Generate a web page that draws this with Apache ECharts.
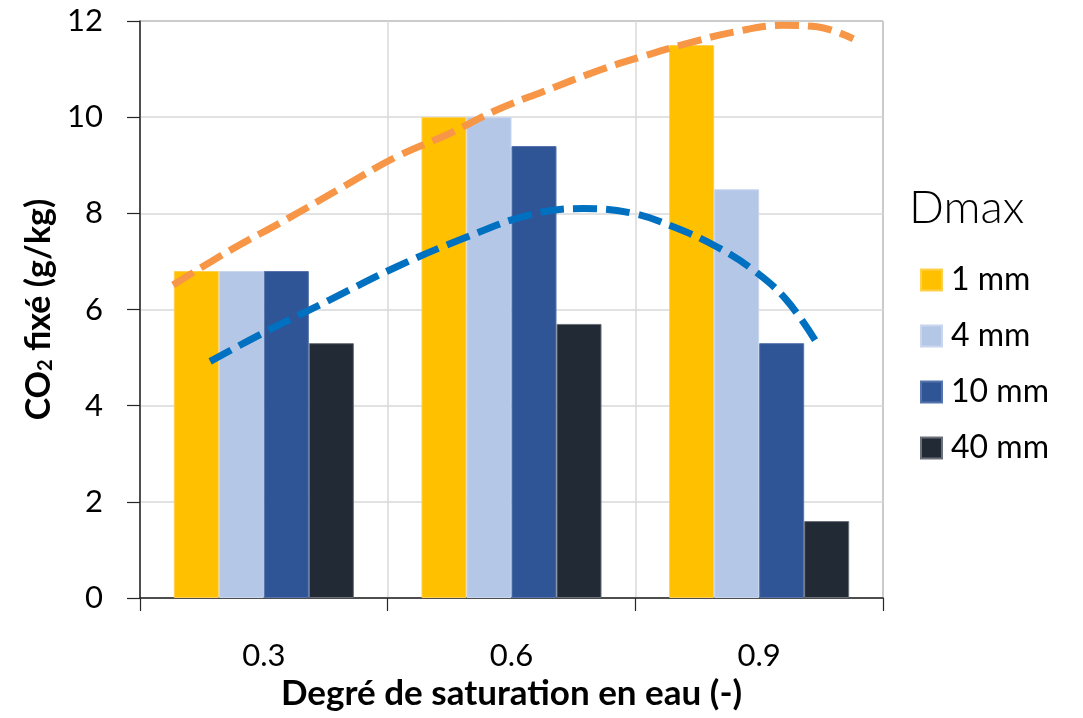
<!DOCTYPE html>
<html>
<head>
<meta charset="utf-8">
<script src="https://cdn.jsdelivr.net/npm/echarts@6/dist/echarts.min.js"></script>
<style>
html,body{margin:0;padding:0;background:#fff;}
#chart{width:1083px;height:718px;}
</style>
</head>
<body>
<div id="chart"></div>
<script>
// ---- data ----
var categories = ['0.3', '0.6', '0.9'];
var seriesNames = ['1 mm', '4 mm', '10 mm', '40 mm'];
var values1mm = [6.8, 10.0, 11.5];
var values4mm = [6.8, 10.0, 8.5];
var values10mm = [6.8, 9.4, 5.3];
var values40mm = [5.3, 5.7, 1.6];
// dashed trend curves (x in saturation units, y in g/kg)
var orangeX = [0.190, 0.259, 0.328, 0.396, 0.461, 0.525, 0.582, 0.638, 0.707, 0.756, 0.812, 0.869, 0.929, 0.970, 1.014];
var orangeY = [6.51, 7.23, 7.88, 8.55, 9.18, 9.66, 10.15, 10.53, 10.98, 11.25, 11.53, 11.77, 11.91, 11.88, 11.63];
var blueX = [0.235, 0.299, 0.380, 0.461, 0.542, 0.622, 0.687, 0.747, 0.796, 0.848, 0.893, 0.933, 0.970];
var blueY = [4.92, 5.51, 6.20, 6.89, 7.48, 7.97, 8.10, 8.00, 7.72, 7.31, 6.82, 6.20, 5.30];
var yTicks = [0, 2, 4, 6, 8, 10, 12];

function pairs(xs, ys) { return xs.map(function (x, i) { return [x, ys[i]]; }); }

var colors = ['#FFC000', '#B4C7E7', '#2F5597', '#222A35'];
var borders = ['#FFD04D', '#C8D6EE', '#5674AC', '#6B7079'];
var barData = [values1mm, values4mm, values10mm, values40mm];

var FONT = 'Lato, "Noto Sans", sans-serif';
var chart = echarts.init(document.getElementById('chart'), null, {renderer: 'canvas'});

var series = barData.map(function (d, i) {
  return {
    name: seriesNames[i], type: 'bar', data: d,
    barGap: '0%', barCategoryGap: '27.3%',
    itemStyle: {color: colors[i], borderColor: borders[i], borderWidth: 1},
    xAxisIndex: 0, yAxisIndex: 0, z: 2
  };
});
series.push({
  name: 'trend1', type: 'line', xAxisIndex: 1, yAxisIndex: 0,
  data: pairs(orangeX, orangeY), smooth: 0.4, symbol: 'none', z: 5,
  lineStyle: {color: '#F79646', width: 7, type: [24, 9], cap: 'butt'}
});
series.push({
  name: 'trend2', type: 'line', xAxisIndex: 1, yAxisIndex: 0,
  data: pairs(blueX, blueY), smooth: 0.4, symbol: 'none', z: 5,
  lineStyle: {color: '#0070C0', width: 7, type: [24, 9], cap: 'butt'}
});

chart.setOption({
  animation: false,
  backgroundColor: '#ffffff',
  textStyle: {fontFamily: FONT},
  title: {
    text: 'Dmax', left: 904, top: 180,
    textStyle: {fontFamily: FONT, fontSize: 46, fontWeight: 300, color: '#000'}
  },
  legend: {
    data: seriesNames, orient: 'vertical', left: 915, top: 259,
    itemWidth: 21, itemHeight: 21, itemGap: 24, icon: 'rect',
    textStyle: {fontFamily: FONT, fontSize: 32, color: '#000', lineHeight: 32, padding: [0, 0, 0, 4]}
  },
  grid: {
    left: 140, top: 21, right: 200, bottom: 120,
    show: true, borderColor: '#4a4a4a', borderWidth: 1, backgroundColor: 'transparent'
  },
  xAxis: [{
    type: 'category', data: categories, position: 'bottom',
    axisLine: {lineStyle: {color: '#262626', width: 1.5}},
    axisTick: {show: true, length: 13, lineStyle: {color: '#262626', width: 1.2}},
    axisLabel: {fontFamily: FONT, fontSize: 31, color: '#000', margin: 42},
    splitLine: {show: true, lineStyle: {color: '#D9D9D9', width: 1.5}},
    name: 'Degré de saturation en eau (-)', nameLocation: 'middle', nameGap: 76,
    nameTextStyle: {fontFamily: FONT, fontSize: 35, fontWeight: 'bold', color: '#000'}
  }, {
    type: 'value', min: 0.15, max: 1.05, position: 'top', show: false
  }],
  yAxis: [{
    type: 'value', min: 0, max: 12, interval: 2,
    axisLine: {show: true, lineStyle: {color: '#262626', width: 1.5}},
    axisTick: {show: true, length: 13, lineStyle: {color: '#262626', width: 1.2}},
    axisLabel: {fontFamily: FONT, fontSize: 31, color: '#000', margin: 37},
    splitLine: {show: true, lineStyle: {color: '#D9D9D9', width: 1.5}},
    name: '{a|CO}{s|2}{a| fixé (g/kg)}', nameLocation: 'middle', nameGap: 84, nameRotate: 90,
    nameTextStyle: {
      fontFamily: FONT, fontSize: 34, fontWeight: 'bold', color: '#000',
      rich: {
        a: {fontFamily: FONT, fontSize: 34, fontWeight: 'bold', color: '#000', verticalAlign: 'bottom', lineHeight: 34},
        s: {fontFamily: FONT, fontSize: 20, fontWeight: 'bold', color: '#000', verticalAlign: 'bottom', lineHeight: 15}
      }
    }
  }],
  series: series
});
</script>
</body>
</html>
